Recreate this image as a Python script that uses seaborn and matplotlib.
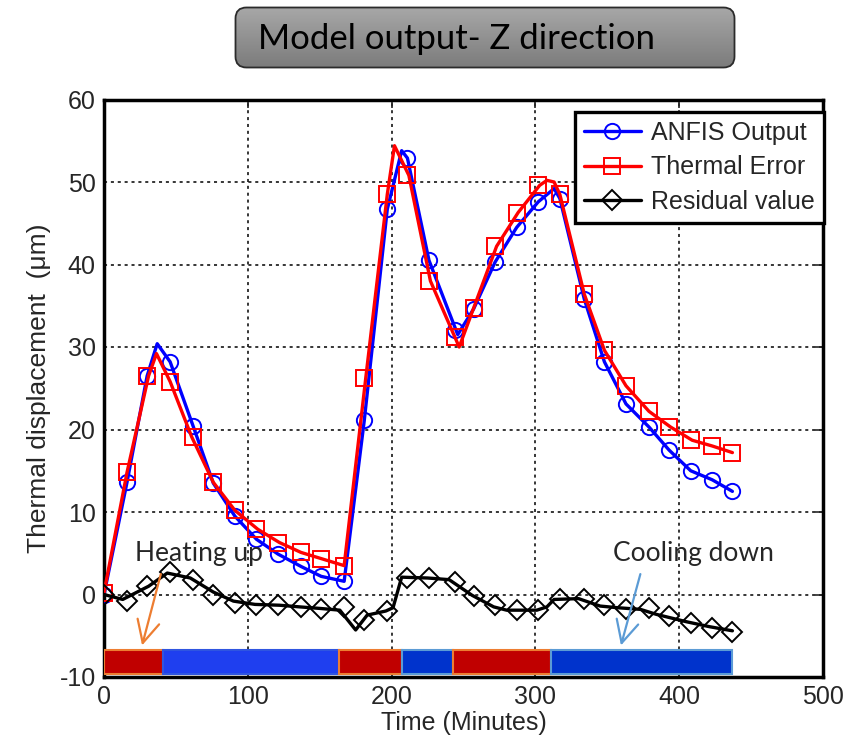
import numpy as np
import pandas as pd
import seaborn as sns
import matplotlib.pyplot as plt
from matplotlib.lines import Line2D
from matplotlib.patches import FancyBboxPatch

# marker times (min) shared by the three series
t_marks = [0, 16, 30, 46, 62, 76, 91, 106, 121, 137, 151, 167, 181, 197, 211,
           226, 244, 257, 272, 287, 302, 317, 334, 348, 363, 379, 393, 408, 423, 437]
anfis_marks = [0, 13.6, 26.5, 28.2, 20.4, 13.5, 9.5, 6.7, 4.9, 3.4, 2.2, 1.6, 21.1, 46.7, 52.9,
               40.5, 32.1, 34.6, 40.3, 44.5, 47.6, 48.0, 35.8, 28.2, 23.1, 20.3, 17.5, 15.0, 13.9, 12.5]
error_marks = [0.2, 14.8, 26.5, 25.8, 19.1, 13.6, 10.2, 7.9, 6.3, 5.1, 4.3, 3.5, 26.2, 48.5, 50.8,
               38.0, 31.2, 34.7, 42.2, 46.3, 49.6, 48.5, 36.4, 29.6, 25.3, 22.2, 20.3, 18.7, 18.0, 17.2]
resid_marks = [0, -0.8, 1.0, 2.7, 1.7, 0, -1.0, -1.3, -1.3, -1.5, -1.8, -1.5, -3.1, -2.0, 2.0,
               2.0, 1.5, -0.2, -1.3, -1.9, -1.9, -0.5, -0.5, -1.3, -1.8, -1.6, -2.6, -3.5, -4.1, -4.5]

# line vertices (markers + turning points)
anfis_t = [0, 16, 30, 37, 46, 62, 76, 91, 106, 121, 137, 151, 167, 181, 197, 207, 211, 226, 246,
           257, 272, 287, 302, 313, 317, 334, 348, 363, 379, 393, 408, 423, 437]
anfis_y = [0, 13.6, 26.5, 30.4, 28.2, 20.4, 13.5, 9.5, 6.7, 4.9, 3.4, 2.2, 1.6, 21.1, 46.7, 53.8, 52.9,
           40.5, 31.5, 34.6, 40.3, 44.5, 47.6, 49.2, 48.0, 35.8, 28.2, 23.1, 20.3, 17.5, 15.0, 13.9, 12.5]
error_t = [0, 16, 31, 36.5, 46, 61, 76, 91, 107, 122, 137, 152, 167, 182, 197, 202, 212, 227, 247,
           257, 273, 288, 303, 308, 313, 317, 334, 348, 363, 379, 394, 409, 423, 437]
error_y = [0.2, 14.8, 26.5, 29.2, 25.8, 19.1, 13.6, 10.2, 7.9, 6.3, 5.1, 4.3, 3.5, 26.2, 48.5, 54.4, 50.8,
           38.0, 30.0, 34.7, 42.2, 46.3, 49.6, 50.2, 50.0, 48.5, 36.4, 29.6, 25.3, 22.2, 20.3, 18.7, 18.0, 17.2]
resid_t = [0, 13, 31, 44, 60, 76, 90, 105, 122, 136, 151, 164, 175, 183, 196, 201, 207, 225, 240,
           256, 271, 280, 301, 308, 313, 330, 345, 357, 373, 384, 405, 421, 437]
resid_y = [0, -0.6, 1.0, 2.6, 2.0, 0.3, -0.8, -1.2, -1.3, -1.5, -1.7, -1.9, -4.3, -2.5, -2.0, -1.6, 2.1,
           2.0, 1.8, -0.1, -1.5, -1.9, -1.9, -1.5, -0.6, -0.5, -1.4, -1.6, -1.8, -2.4, -3.3, -3.9, -4.4]

# heating / cooling phases along the bottom
phase_start = [0, 41, 163.5, 207, 243, 311]
phase_end = [41, 163.5, 207, 243, 311, 436.5]
phase_color = ['#C00000', '#1F3FEF', '#C00000', '#0033CC', '#C00000', '#0033CC']
phase_edge = ['#ED7D31', '#2F55E0', '#ED7D31', '#5B9BD5', '#ED7D31', '#5B9BD5']

sns.set_style("white")
plt.rcParams['font.family'] = ['Liberation Sans', 'DejaVu Sans']
plt.rcParams['axes.unicode_minus'] = False

fig = plt.figure(figsize=(8.56, 7.49), dpi=100)
ax = fig.add_axes([104 / 856, 1 - 677 / 749, 719 / 856, 577.5 / 749])

# phase bars
widths = np.array(phase_end) - np.array(phase_start)
ax.barh(y=-8.2, width=widths, left=phase_start, height=2.9, color=phase_color,
        edgecolor=phase_edge, linewidth=1.5, zorder=3)

sns.lineplot(x=anfis_t, y=anfis_y, ax=ax, color='blue', lw=2.4, zorder=4)
ax.plot(t_marks, anfis_marks, ls='none', marker='o', ms=11, mfc='none', mec='blue', mew=1.4, zorder=4)
sns.lineplot(x=error_t, y=error_y, ax=ax, color='red', lw=2.4, zorder=5)
ax.plot(t_marks, error_marks, ls='none', marker='s', ms=11, mfc='none', mec='red', mew=1.4, zorder=5)
sns.lineplot(x=resid_t, y=resid_y, ax=ax, color='black', lw=2.4, zorder=6)
ax.plot(t_marks, resid_marks, ls='none', marker='D', ms=10, mfc='none', mec='black', mew=1.4, zorder=6)

ax.set_xlim(0, 500)
ax.set_ylim(-10, 60)
ax.set_xticks(range(0, 501, 100))
ax.set_yticks(range(-10, 61, 10))
ax.grid(True, ls=(0, (2, 2.5)), color='black', lw=1.1, zorder=0)
ax.set_axisbelow(True)
ax.tick_params(direction='in', length=6, width=1.2, top=True, right=True, labelsize=18, pad=6)
for s in ax.spines.values():
    s.set_linewidth(2.5)
    s.set_color('black')
ax.set_xlabel('Time (Minutes)', fontsize=18, labelpad=1)
ax.set_ylabel('Thermal displacement  (\u03bcm)', fontsize=19, labelpad=6)

# annotations
ax.text(21.5, 4.0, 'Heating up', fontsize=19, family=['Lato', 'DejaVu Sans'], va='baseline', zorder=7)
ax.annotate('', xy=(26, -6.5), xytext=(40, 2.8),
            arrowprops=dict(arrowstyle='->', color='#ED7D31', lw=1.6, mutation_scale=40), zorder=7)
ax.text(354, 4.1, 'Cooling down', fontsize=19, family=['Lato', 'DejaVu Sans'], va='baseline', zorder=7)
ax.annotate('', xy=(359, -6.5), xytext=(373.5, 2.8),
            arrowprops=dict(arrowstyle='->', color='#5B9BD5', lw=1.6, mutation_scale=40), zorder=7)

handles = [
    Line2D([], [], color='blue', lw=2.4, marker='o', ms=11, mfc='none', mec='blue', mew=1.4),
    Line2D([], [], color='red', lw=2.4, marker='s', ms=11, mfc='none', mec='red', mew=1.4),
    Line2D([], [], color='black', lw=2.4, marker='D', ms=10, mfc='none', mec='black', mew=1.4),
]
leg = ax.legend(handles, ['ANFIS Output', 'Thermal Error', 'Residual value'], loc='upper right',
                bbox_to_anchor=(1.001, 0.978), fontsize=18, frameon=True, fancybox=False,
                handlelength=2.3, handletextpad=0.4, borderpad=0.35, labelspacing=0.42,
                borderaxespad=0)
leg.get_frame().set_edgecolor('black')
leg.get_frame().set_linewidth(2.4)
leg.get_frame().set_alpha(1)
leg.set_zorder(10)

# title box with gradient fill
tax = fig.add_axes([234 / 856, 1 - 69 / 749, 502 / 856, 63 / 749])
tax.set_xlim(0, 502)
tax.set_ylim(0, 63)
tax.axis('off')
box = FancyBboxPatch((1.5, 1.5), 499, 60, boxstyle='round,pad=0,rounding_size=11',
                     fc='none', ec='#2b2b2b', lw=1.3, zorder=3)
tax.add_patch(box)
grad = np.linspace(0, 1, 64).reshape(-1, 1)
img = tax.imshow(grad, extent=(0, 502, 0, 63), aspect='auto', origin='lower',
                 cmap=sns.blend_palette(['#7B7B7B', '#A8A8A8'], as_cmap=True), zorder=1)
clip = FancyBboxPatch((1.5, 1.5), 499, 60, boxstyle='round,pad=0,rounding_size=11',
                      fc='none', ec='none', transform=tax.transData)
img.set_clip_path(clip)
tax.text(24, 30, 'Model output- Z direction', fontsize=25, family=['Lato', 'DejaVu Sans'],
         va='center', ha='left', color='black', zorder=4)

fig.savefig('out.png', dpi=100)
